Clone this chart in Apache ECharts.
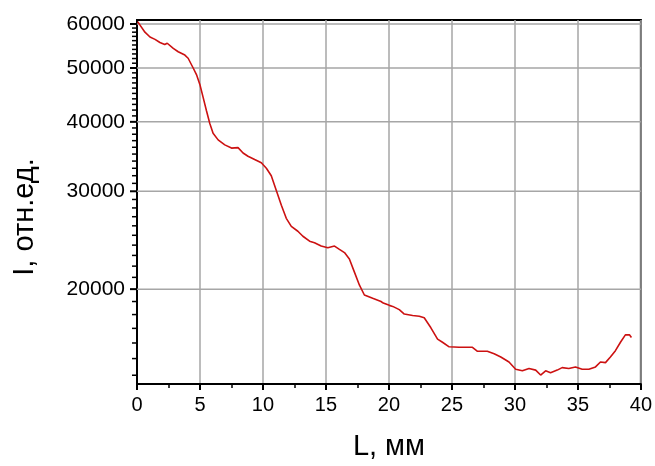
<!DOCTYPE html>
<html>

<head>
    <meta charset="utf-8">
    <title>I(L)</title>
    <style>
        html, body { margin: 0; padding: 0; background: #fff; }
        #chart-container { width: 655px; height: 466px; }
    </style>
    <script src="https://cdn.jsdelivr.net/npm/echarts@6/dist/echarts.min.js"></script>
</head>

<body>
    <div id="chart-container"></div>
    <script>
        // positions along the sample, mm
        const lengthMm = [
            0.05, 0.63, 1.03, 1.43, 1.82, 2.2, 2.4, 2.88, 3.27, 3.8,
            4.06, 4.46, 4.72, 4.99, 5.25, 5.51, 5.78, 6.04, 6.44, 6.97,
            7.5, 8.02, 8.42, 8.81, 9.34, 9.87, 10.27, 10.66, 11.06, 11.46,
            11.85, 12.25, 12.77, 13.17, 13.7, 14.09, 14.62, 15.15, 15.68, 16.07,
            16.47, 16.86, 17.26, 17.66, 18.05, 18.71, 19.37, 19.55, 20.03, 20.3,
            20.82, 21.22, 21.88, 22.41, 22.8, 23.33, 23.86, 24.25, 24.78, 25.57,
            26.63, 27.03, 27.81, 28.35, 28.88, 29.53, 30.06, 30.59, 31.12, 31.65,
            32.04, 32.44, 32.83, 33.36, 33.75, 34.28, 34.81, 35.34, 35.87, 36.4,
            36.79, 37.19, 37.58, 37.98, 38.38, 38.77, 39.09, 39.25
        ];
        // intensity, rel. units
        const intensity = [
            60580, 58000, 56850, 56300, 55560, 55100, 55400, 54230, 53480, 52750,
            52060, 50000, 48650, 46710, 44260, 41930, 39720, 38140, 37120, 36360,
            35880, 35950, 35160, 34690, 34220, 33760, 33000, 32000, 30100, 28320,
            26820, 25940, 25420, 24900, 24400, 24240, 23910, 23740, 23910, 23590,
            23270, 22660, 21460, 20330, 19520, 19250, 19000, 18880, 18700, 18620,
            18370, 18040, 17930, 17880, 17760, 17040, 16260, 16050, 15750, 15720,
            15720, 15460, 15460, 15300, 15100, 14790, 14350, 14260, 14400, 14300,
            14010, 14260, 14150, 14300, 14450, 14400, 14490, 14350, 14350, 14490,
            14790, 14750, 15100, 15500, 16050, 16550, 16550, 16370
        ];

        const yMajorTicks = [20000, 30000, 40000, 50000, 60000];
        const yMinorTicks = [
            14000, 15000, 16000, 17000, 18000, 19000,
            21000, 22000, 23000, 24000, 25000, 26000, 27000, 28000, 29000,
            31000, 32000, 33000, 34000, 35000, 36000, 37000, 38000, 39000,
            41000, 42000, 43000, 44000, 45000, 46000, 47000, 48000, 49000,
            51000, 52000, 53000, 54000, 55000, 56000, 57000, 58000, 59000
        ];

        const FONT = '"Liberation Sans", Arial, sans-serif';
        const GRID_GRAY = '#a6a6a6';

        var dom = document.getElementById('chart-container');
        var myChart = echarts.init(dom, null, { renderer: 'canvas' });

        const lineData = lengthMm.map((x, i) => [x, intensity[i]]);
        const tickData = yMajorTicks.map(v => [0, v, 1])
            .concat(yMinorTicks.map(v => [0, v, 0]));

        // y ticks, labels and horizontal grid drawn at the log-axis values
        function renderYTick(params, api) {
            const v = api.value(1);
            const major = api.value(2) === 1;
            const p0 = api.coord([0, v]);
            const p1 = api.coord([40, v]);
            const children = [];
            if (major) {
                children.push({
                    type: 'line',
                    shape: { x1: p0[0], y1: p0[1], x2: p1[0], y2: p1[1] },
                    style: { stroke: GRID_GRAY, lineWidth: 1.5 }
                });
                children.push({
                    type: 'line',
                    shape: { x1: p0[0] - 7, y1: p0[1], x2: p0[0], y2: p0[1] },
                    style: { stroke: '#000', lineWidth: 2 }
                });
                children.push({
                    type: 'text',
                    style: {
                        text: String(v),
                        x: p0[0] - 12,
                        y: p0[1],
                        align: 'right',
                        verticalAlign: 'middle',
                        font: '21px ' + FONT,
                        fill: '#000'
                    }
                });
            } else {
                children.push({
                    type: 'line',
                    shape: { x1: p0[0] - 5, y1: p0[1], x2: p0[0], y2: p0[1] },
                    style: { stroke: '#000', lineWidth: 1.5 }
                });
            }
            return { type: 'group', children: children };
        }

        var option = {
            animation: false,
            backgroundColor: '#fff',
            grid: {
                left: 137,
                right: 13,
                top: 20,
                bottom: 75,
                show: true,
                borderColor: '#000',
                borderWidth: 2
            },
            xAxis: {
                type: 'value',
                min: 0,
                max: 40,
                interval: 5,
                name: 'L, мм',
                nameLocation: 'middle',
                nameGap: 48,
                nameTextStyle: { fontFamily: FONT, fontSize: 29, color: '#000' },
                axisLine: { show: true, lineStyle: { color: '#000', width: 2 } },
                axisTick: { show: true, length: 6, lineStyle: { color: '#000', width: 2 } },
                minorTick: { show: true, splitNumber: 2, length: 4, lineStyle: { color: '#000', width: 1.5 } },
                axisLabel: { fontFamily: FONT, fontSize: 20, color: '#000', margin: 11 },
                splitLine: { show: true, lineStyle: { color: GRID_GRAY, width: 1.5 } }
            },
            yAxis: {
                type: 'log',
                logBase: 10,
                min: 13500,
                max: 61000,
                name: 'I, отн.ед.',
                nameLocation: 'middle',
                nameGap: 98,
                nameTextStyle: {
                    fontFamily: FONT, fontSize: 29, color: '#000',
                    padding: [0, 30, 0, 0]
                },
                axisLine: { show: true, lineStyle: { color: '#000', width: 2 } },
                axisTick: { show: false },
                axisLabel: { show: false },
                splitLine: { show: false }
            },
            series: [
                {
                    type: 'custom',
                    silent: true,
                    clip: false,
                    z: 1,
                    renderItem: renderYTick,
                    data: tickData
                },
                {
                    type: 'line',
                    z: 5,
                    data: lineData,
                    showSymbol: false,
                    lineStyle: { color: '#cc1111', width: 1.6 }
                }
            ]
        };

        myChart.setOption(option);
        window.addEventListener('resize', myChart.resize);
    </script>
</body>

</html>
